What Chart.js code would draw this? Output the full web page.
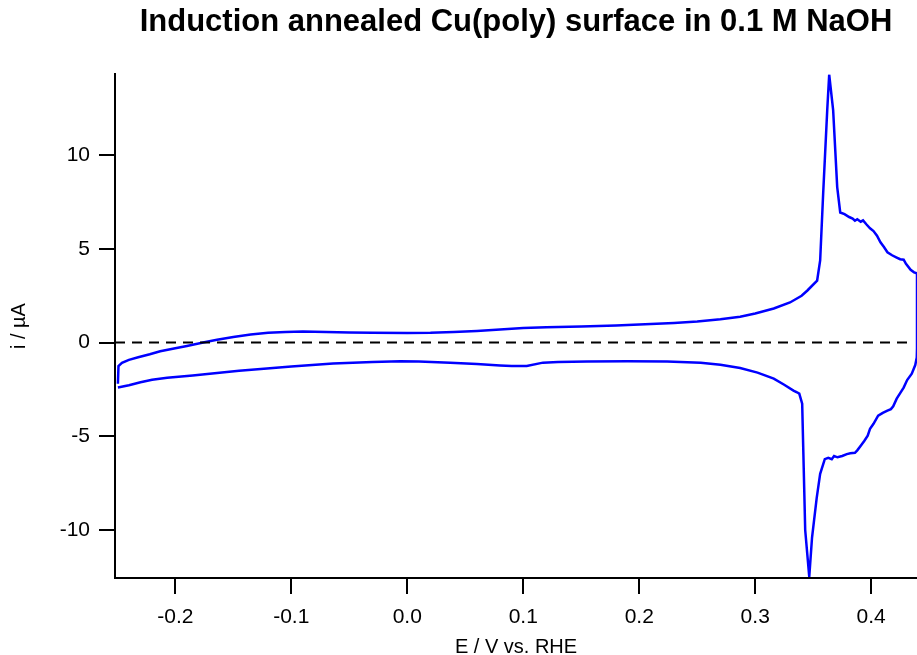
<!DOCTYPE html>
<html>
<head>
<meta charset="utf-8">
<script src="https://cdn.jsdelivr.net/npm/chart.js@4"></script>
<style>
html,body{margin:0;padding:0;background:#fff;}
#wrap{width:917px;height:655px;position:relative;}
</style>
</head>
<body>
<div id="wrap"><canvas id="c" width="917" height="655"></canvas></div>
<script>
// Anodic sweep (E / V vs RHE, i / µA)
const anodicE = [-0.2495,-0.2490,-0.246,-0.240,-0.232,-0.222,-0.213,-0.200,-0.190,-0.175,-0.164,-0.150,-0.135,-0.120,-0.105,-0.090,-0.070,-0.050,-0.030,0.000,0.020,0.040,0.060,0.080,0.100,0.120,0.150,0.180,0.200,0.230,0.250,0.270,0.287,0.300,0.316,0.330,0.340,0.345,0.3534,0.356,0.3586,0.3621,0.3638,0.3672,0.3707,0.3733,0.377,0.381,0.384,0.386,0.388,0.391,0.393,0.396,0.399,0.402,0.405,0.408,0.411,0.414,0.418,0.422,0.425,0.428,0.430,0.434,0.437,0.4395];
const anodicI = [-2.2,-1.25,-1.08,-0.92,-0.78,-0.62,-0.46,-0.30,-0.18,0.02,0.15,0.30,0.43,0.52,0.57,0.59,0.57,0.54,0.52,0.51,0.52,0.56,0.62,0.70,0.78,0.82,0.86,0.91,0.96,1.04,1.12,1.24,1.38,1.55,1.82,2.14,2.50,2.78,3.31,4.38,7.96,12.4,14.3,12.4,8.3,6.94,6.85,6.70,6.62,6.50,6.58,6.45,6.52,6.30,6.10,5.95,5.70,5.35,5.10,4.82,4.66,4.54,4.45,4.42,4.20,3.88,3.75,3.69];
// Cathodic sweep
const cathodicE = [0.4395,0.4395,0.4395,0.4393,0.438,0.435,0.431,0.428,0.425,0.422,0.419,0.417,0.414,0.410,0.406,0.402,0.399,0.397,0.394,0.391,0.388,0.386,0.382,0.379,0.375,0.371,0.368,0.366,0.363,0.360,0.356,0.353,0.349,0.3466,0.3431,0.3414,0.3405,0.338,0.336,0.333,0.325,0.316,0.302,0.287,0.270,0.253,0.224,0.190,0.155,0.130,0.117,0.103,0.090,0.080,0.060,0.037,0.010,-0.006,-0.030,-0.064,-0.100,-0.121,-0.145,-0.164,-0.185,-0.207,-0.220,-0.230,-0.240,-0.2495];
const cathodicI = [3.69,0.5,-0.3,-0.8,-1.2,-1.66,-2.0,-2.4,-2.7,-2.99,-3.4,-3.55,-3.63,-3.75,-3.90,-4.33,-4.6,-4.97,-5.25,-5.50,-5.75,-5.88,-5.90,-5.95,-6.05,-6.12,-6.05,-6.22,-6.15,-6.22,-7.0,-8.3,-10.4,-12.5,-10.0,-5.6,-3.26,-2.72,-2.65,-2.56,-2.25,-1.92,-1.60,-1.36,-1.18,-1.07,-1.01,-1.00,-1.01,-1.04,-1.07,-1.25,-1.25,-1.22,-1.14,-1.07,-1.01,-1.00,-1.04,-1.12,-1.28,-1.38,-1.50,-1.62,-1.75,-1.87,-1.98,-2.12,-2.28,-2.40];
// Zero reference line
const zeroE = [-0.252, 0.432];
const zeroI = [0, 0];
// Axis ticks
const xTicks = [-0.2,-0.1,0.0,0.1,0.2,0.3,0.4];
const xTickLabels = ['-0.2','-0.1','0.0','0.1','0.2','0.3','0.4'];
const yTicks = [-10,-5,0,5,10];
const yTickLabels = ['-10','-5','0','5','10'];

const toXY = (xs, ys) => xs.map((x, k) => ({x: x, y: ys[k]}));
const FONT = "'Liberation Sans', Arial, sans-serif";

new Chart(document.getElementById('c'), {
  type: 'line',
  data: {
    datasets: [
      {data: toXY(zeroE, zeroI), borderColor: '#000', borderWidth: 2, borderDash: [10, 7], pointRadius: 0},
      {data: toXY(anodicE, anodicI), borderColor: '#0000ff', borderWidth: 2.5, pointRadius: 0, tension: 0},
      {data: toXY(cathodicE, cathodicI), borderColor: '#0000ff', borderWidth: 2.5, pointRadius: 0, tension: 0}
    ]
  },
  options: {
    responsive: false,
    animation: false,
    layout: {padding: {left: 0, right: 0, top: 0, bottom: 0}},
    plugins: {
      legend: {display: false},
      tooltip: {enabled: false},
      title: {
        display: true,
        fullSize: false,
        text: 'Induction annealed Cu(poly) surface in 0.1 M NaOH',
        color: '#000',
        font: {family: FONT, size: 31, weight: 'bold'},
        padding: {top: 4, bottom: 33}
      }
    },
    scales: {
      x: {
        type: 'linear',
        min: -0.252, max: 0.4395,
        afterBuildTicks: s => { s.ticks = xTicks.map(v => ({value: v})); },
        afterFit: s => { s.height = 77; },
        ticks: {
          color: '#000', font: {family: FONT, size: 21}, padding: 11,
          callback: (v, i) => xTickLabels[i]
        },
        grid: {drawOnChartArea: false, color: '#000', lineWidth: 2, tickLength: 16, tickWidth: 2},
        border: {display: true, color: '#000', width: 2},
        title: {display: true, text: 'E / V vs. RHE', color: '#000', font: {family: FONT, size: 20}, padding: {top: 0, bottom: -4}}
      },
      y: {
        type: 'linear',
        min: -12.56, max: 14.32,
        afterBuildTicks: s => { s.ticks = yTicks.map(v => ({value: v})); },
        afterFit: s => { s.width = 115; },
        ticks: {
          color: '#000', font: {family: FONT, size: 21}, padding: 9,
          callback: (v, i) => yTickLabels[i]
        },
        grid: {drawOnChartArea: false, color: '#000', lineWidth: 2, tickLength: 16, tickWidth: 2},
        border: {display: true, color: '#000', width: 2},
        title: {display: true, text: 'i / µA', color: '#000', font: {family: FONT, size: 20}, padding: {top: 7, bottom: 0}}
      }
    }
  }
});
</script>
</body>
</html>
